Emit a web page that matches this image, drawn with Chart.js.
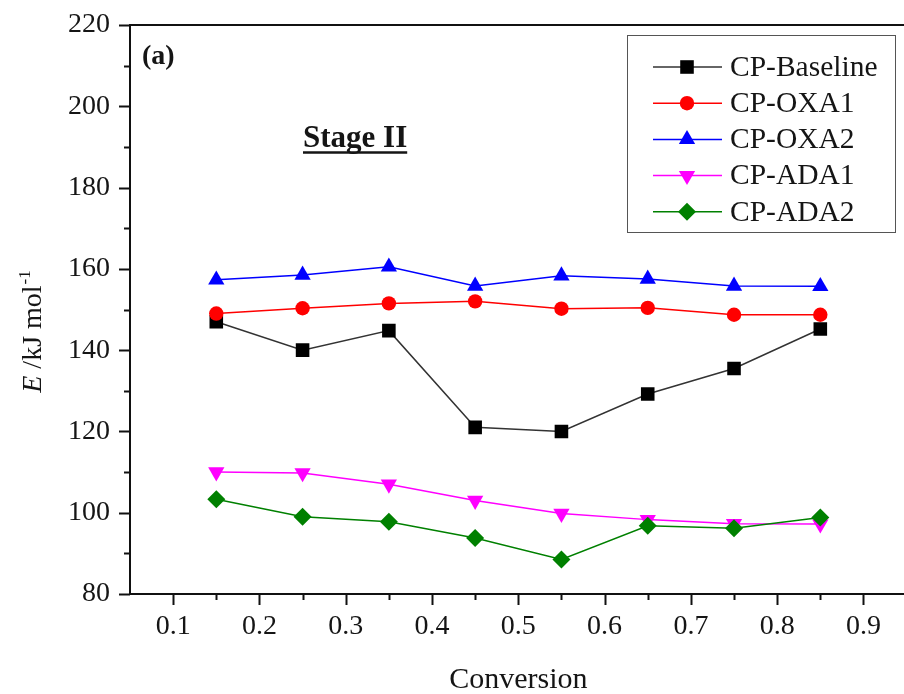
<!DOCTYPE html>
<html>
<head>
<meta charset="utf-8">
<script src="https://cdn.jsdelivr.net/npm/chart.js@4/dist/chart.umd.min.js"></script>
<style>
  html, body { margin: 0; padding: 0; background: #fff; overflow: hidden; }
  #wrap { width: 912px; height: 694px; }
</style>
</head>
<body>
<div id="wrap"><canvas id="chart" width="912" height="694"></canvas></div>
<script>
// data
const conversion = [0.15, 0.25, 0.35, 0.45, 0.55, 0.65, 0.75, 0.85];
const cpBaseline = [147.0, 140.0, 144.8, 121.0, 120.0, 129.2, 135.5, 145.2];
const cpOxa1 = [149.0, 150.3, 151.5, 152.0, 150.2, 150.4, 148.7, 148.7];
const cpOxa2 = [157.3, 158.5, 160.5, 155.8, 158.3, 157.5, 155.8, 155.7];
const cpAda1 = [110.0, 109.8, 107.0, 103.0, 99.8, 98.3, 97.3, 97.2];
const cpAda2 = [103.3, 99.0, 97.8, 93.8, 88.5, 96.8, 96.2, 98.8];

const seriesNames = ['CP-Baseline', 'CP-OXA1', 'CP-OXA2', 'CP-ADA1', 'CP-ADA2'];
const xTicks = [0.1, 0.2, 0.3, 0.4, 0.5, 0.6, 0.7, 0.8, 0.9];
const yTicks = [80, 100, 120, 140, 160, 180, 200, 220];

const SERIF = '"Liberation Serif", "DejaVu Serif", serif';
const TXT = '#151515';

const styles = [
    { line: '#333333', fill: '#000000', pointStyle: 'rect', radius: 9.6, rotation: 0 },
    { line: '#ff0000', fill: '#ff0000', pointStyle: 'circle', radius: 7.2, rotation: 0 },
    { line: '#0000ff', fill: '#0000ff', pointStyle: 'triangle', radius: 9.4, rotation: 0 },
    { line: '#ff00ff', fill: '#ff00ff', pointStyle: 'triangle', radius: 9.4, rotation: 180 },
    { line: '#008000', fill: '#008000', pointStyle: 'rectRot', radius: 9, rotation: 0 }
];

const allSeries = [cpBaseline, cpOxa1, cpOxa2, cpAda1, cpAda2];

function makeDataset(i) {
    const s = styles[i];
    return {
        label: seriesNames[i],
        data: conversion.map((c, k) => ({ x: c, y: allSeries[i][k] })),
        borderColor: s.line,
        borderWidth: 1.5,
        backgroundColor: s.fill,
        pointBackgroundColor: s.fill,
        pointBorderColor: s.fill,
        pointBorderWidth: 0,
        pointStyle: s.pointStyle,
        pointRadius: s.radius,
        pointRotation: s.rotation,
        tension: 0,
        order: 5 - i
    };
}

function drawMarker(ctx, s, x, y) {
    ctx.save();
    ctx.fillStyle = s.fill;
    ctx.strokeStyle = s.fill;
    Chart.helpers.drawPoint(ctx, { pointStyle: s.pointStyle, radius: s.radius, rotation: s.rotation, borderWidth: 0 }, x, y);
    ctx.restore();
}

// axes frame, ticks, labels and legend
const decorations = {
    id: 'decorations',
    afterDraw(chart) {
        const ctx = chart.ctx;
        const area = chart.chartArea;
        const xs = chart.scales.x;
        const ys = chart.scales.y;
        ctx.save();

        // top frame line
        ctx.strokeStyle = '#111';
        ctx.lineWidth = 2;
        ctx.beginPath();
        ctx.moveTo(area.left, area.top);
        ctx.lineTo(chart.width, area.top);
        ctx.stroke();

        // tick marks
        ctx.lineWidth = 2;
        for (let v = 0.1; v < 0.951; v += 0.05) {
            const px = Math.round(xs.getPixelForValue(v)) + 0.5;
            const major = Math.abs(v * 10 - Math.round(v * 10)) < 0.01;
            ctx.beginPath();
            ctx.moveTo(px, area.bottom);
            ctx.lineTo(px, area.bottom + (major ? 11 : 6));
            ctx.stroke();
        }
        for (let v = 80; v <= 220; v += 10) {
            const py = Math.round(ys.getPixelForValue(v)) + 0.5;
            const major = v % 20 === 0;
            ctx.beginPath();
            ctx.moveTo(area.left, py);
            ctx.lineTo(area.left - (major ? 11 : 6), py);
            ctx.stroke();
        }

        // x title
        ctx.fillStyle = TXT;
        ctx.font = '30px ' + SERIF;
        ctx.textAlign = 'center';
        ctx.textBaseline = 'alphabetic';
        ctx.fillText('Conversion', xs.getPixelForValue(0.5), 688);

        // y title: E /kJ mol-1 rotated
        ctx.save();
        ctx.translate(41, 332);
        ctx.rotate(-Math.PI / 2);
        ctx.textAlign = 'left';
        const partE = 'E';
        const partMid = ' /kJ mol';
        const partSup = '-1';
        ctx.font = 'italic 28px ' + SERIF;
        const wE = ctx.measureText(partE).width;
        ctx.font = '28px ' + SERIF;
        const wMid = ctx.measureText(partMid).width;
        ctx.font = '17px ' + SERIF;
        const wSup = ctx.measureText(partSup).width;
        let x0 = -(wE + wMid + wSup) / 2;
        ctx.font = 'italic 28px ' + SERIF;
        ctx.fillText(partE, x0, 0);
        x0 += wE;
        ctx.font = '28px ' + SERIF;
        ctx.fillText(partMid, x0, 0);
        x0 += wMid;
        ctx.font = '17px ' + SERIF;
        ctx.fillText(partSup, x0 + 1, -11);
        ctx.restore();

        // panel label and stage text
        ctx.textAlign = 'left';
        ctx.font = 'bold 28px ' + SERIF;
        ctx.fillText('(a)', 142, 64);
        ctx.font = 'bold 31px ' + SERIF;
        ctx.fillText('Stage II', 303, 147);
        const wStage = ctx.measureText('Stage II').width;
        ctx.lineWidth = 2.5;
        ctx.strokeStyle = TXT;
        ctx.beginPath();
        ctx.moveTo(303, 152.5);
        ctx.lineTo(303 + wStage, 152.5);
        ctx.stroke();

        // legend
        ctx.strokeStyle = '#555';
        ctx.lineWidth = 1;
        ctx.strokeRect(627.5, 35.5, 268, 197);
        ctx.font = '29.5px ' + SERIF;
        ctx.textBaseline = 'middle';
        for (let i = 0; i < seriesNames.length; i++) {
            const ly = 67 + i * 36.2;
            ctx.strokeStyle = styles[i].line;
            ctx.lineWidth = 1.5;
            ctx.beginPath();
            ctx.moveTo(653, ly);
            ctx.lineTo(722, ly);
            ctx.stroke();
            drawMarker(ctx, styles[i], 687, ly);
            ctx.fillStyle = TXT;
            ctx.fillText(seriesNames[i], 730, ly + 1);
        }
        ctx.restore();
    }
};

new Chart(document.getElementById('chart'), {
    type: 'line',
    data: { datasets: [0, 1, 2, 3, 4].map(makeDataset) },
    options: {
        responsive: false,
        animation: false,
        layout: { autoPadding: false, padding: { top: 25, right: 5.4, left: 0, bottom: 0 } },
        plugins: {
            legend: { display: false },
            tooltip: { enabled: false }
        },
        scales: {
            x: {
                type: 'linear',
                min: 0.05,
                max: 0.95,
                afterBuildTicks: scale => { scale.ticks = xTicks.map(v => ({ value: v })); },
                afterFit: scale => {
                    scale.height = 100;
                    scale.paddingLeft = 0;
                    scale.paddingRight = 0;
                },
                grid: { display: false, drawTicks: false },
                border: { display: true, color: '#111', width: 2 },
                ticks: {
                    color: TXT,
                    font: { family: SERIF, size: 28 },
                    padding: 16,
                    maxRotation: 0,
                    autoSkip: false,
                    callback: v => v.toFixed(1)
                }
            },
            y: {
                type: 'linear',
                min: 80,
                max: 220,
                afterBuildTicks: scale => { scale.ticks = yTicks.map(v => ({ value: v })); },
                afterFit: scale => {
                    scale.width = 130;
                    scale.paddingTop = 0;
                    scale.paddingBottom = 0;
                },
                grid: { display: false, drawTicks: false },
                border: { display: true, color: '#111', width: 2 },
                ticks: {
                    color: TXT,
                    font: { family: SERIF, size: 28 },
                    padding: 20,
                    autoSkip: false
                }
            }
        }
    },
    plugins: [decorations]
});
</script>
</body>
</html>
